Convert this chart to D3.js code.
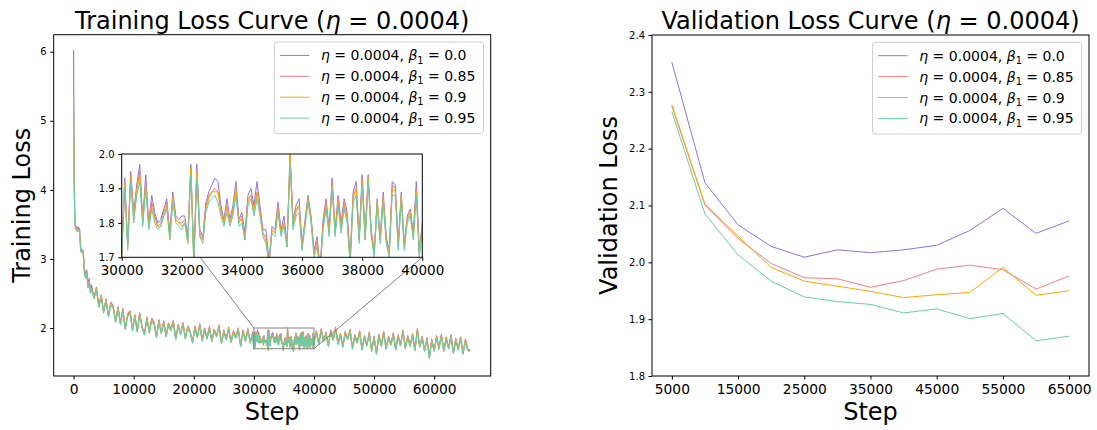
<!DOCTYPE html>
<html>
<head>
<meta charset="utf-8">
<script src="https://cdn.jsdelivr.net/npm/d3@7"></script>
<style>
    body { margin: 0; background: #fff; }
    svg text { font-family: "DejaVu Sans", sans-serif; fill: #000; }
</style>
</head>
<body>
<svg id="chart" width="1097" height="430"></svg>
<script>
// ---- data ----
const betaLabels = ["0.0", "0.85", "0.9", "0.95"];

// logged training steps: dense early, every 400 steps, every 100 inside the zoomed window
const trainSteps = [0, 100, 200, 300, 400, 600, 800, 1000, 1200, 1400, 1600, 1800, 2000, 2200, 2400, 2600, 2800, 3000]
    .concat(d3.range(3400, 30000, 400), d3.range(30000, 40001, 100), d3.range(40400, 66001, 400));

const trainB00 = [
    6.02, 4.30, 3.62, 3.50, 3.47, 3.45, 3.46, 3.43, 3.15, 3.14, 3.12, 2.86, 2.77, 2.84, 2.63, 2.72, 2.55, 2.62,
    2.44, 2.59, 2.32, 2.48, 2.24, 2.42, 2.18, 2.37, 2.32, 2.10,
    2.31, 2.07, 2.28, 2.00, 2.20, 2.25, 1.98, 2.19, 1.96, 2.22,
    2.02, 1.92, 2.16, 1.95, 2.14, 2.08, 1.88, 2.12, 1.94, 2.10,
    1.89, 2.07, 1.98, 2.11, 1.85, 2.05, 1.92, 2.08, 1.86, 2.03,
    1.95, 1.80, 2.03, 1.88, 2.06, 1.83, 2.00, 1.86, 2.02, 1.82,
    1.98, 1.89, 2.04, 1.79, 1.97, 1.85, 2.01, 1.81, 1.96, 1.87,
    2.00, 1.75, 1.97, 1.82, 1.99, 1.80, 1.94,
    1.72, 1.93, 1.74, 1.95, 1.83, 1.91, 1.97, 1.81, 1.94, 1.80,
    1.88, 1.83, 1.80, 1.81, 1.84, 1.87, 1.77, 1.89, 1.82, 1.81,
    1.82, 1.82, 1.76, 1.97, 1.70, 1.97, 1.78, 1.76, 1.86, 1.89,
    1.91, 1.93, 1.92, 1.85, 1.81, 1.87, 1.81, 1.85, 1.92, 1.81,
    1.83, 1.77, 1.88, 1.90, 1.85, 1.92, 1.85, 1.78, 1.78, 1.69,
    1.79, 1.78, 1.86, 1.78, 1.82, 1.74, 2.00, 1.81, 1.85, 1.87,
    1.74, 1.81, 1.88, 1.82, 1.72, 1.76, 1.67, 1.81, 1.87, 1.78,
    1.93, 1.78, 1.88, 1.80, 1.87, 1.83, 1.70, 1.89, 1.92, 1.76,
    1.94, 1.77, 1.94, 1.78, 1.72, 1.87, 1.76, 1.89, 1.76, 1.72,
    1.92, 1.91, 1.74, 1.89, 1.74, 1.82, 1.84, 1.77, 1.92, 1.72,
    1.80,
    1.96, 1.78, 1.99, 1.82, 1.94, 1.75, 1.97, 1.84, 2.01, 1.78,
    1.92, 1.74, 1.95, 1.85, 1.98, 1.72, 1.90, 1.80, 1.96, 1.70,
    1.89, 1.76, 1.94, 1.68, 1.88, 1.64, 1.91, 1.75, 1.95, 1.71,
    1.88, 1.77, 1.93, 1.70, 1.90, 1.76, 1.97, 1.72, 1.89, 1.75,
    1.92, 1.69, 1.99, 1.74, 1.88, 1.68, 1.86, 1.58, 1.84, 1.68,
    1.89, 1.71, 1.91, 1.68, 1.87, 1.72, 1.90, 1.65, 1.85, 1.70,
    1.87, 1.64, 1.84, 1.69, 1.68
];
const trainB085 = [
    5.20, 4.18, 3.59, 3.48, 3.45, 3.43, 3.44, 3.41, 3.13, 3.12, 3.10, 2.83, 2.75, 2.81, 2.61, 2.69, 2.53, 2.59,
    2.43, 2.58, 2.31, 2.47, 2.23, 2.41, 2.17, 2.36, 2.31, 2.09,
    2.30, 2.06, 2.27, 1.99, 2.19, 2.24, 1.97, 2.18, 1.95, 2.21,
    2.01, 1.91, 2.15, 1.94, 2.13, 2.07, 1.87, 2.11, 1.93, 2.09,
    1.88, 2.06, 1.97, 2.10, 1.84, 2.04, 1.91, 2.07, 1.85, 2.02,
    1.94, 1.79, 2.02, 1.87, 2.05, 1.82, 1.99, 1.85, 2.01, 1.81,
    1.97, 1.88, 2.03, 1.78, 1.96, 1.84, 2.00, 1.80, 1.95, 1.86,
    1.99, 1.74, 1.96, 1.81, 1.98, 1.79, 1.93,
    1.71, 1.92, 1.73, 1.94, 1.82, 1.90, 1.95, 1.80, 1.92, 1.79,
    1.86, 1.82, 1.79, 1.80, 1.83, 1.86, 1.76, 1.88, 1.81, 1.80,
    1.80, 1.81, 1.75, 1.96, 1.69, 1.95, 1.77, 1.75, 1.85, 1.88,
    1.89, 1.90, 1.89, 1.84, 1.80, 1.85, 1.80, 1.84, 1.90, 1.80,
    1.82, 1.76, 1.87, 1.88, 1.84, 1.89, 1.84, 1.77, 1.76, 1.68,
    1.78, 1.77, 1.85, 1.77, 1.80, 1.73, 1.99, 1.80, 1.84, 1.85,
    1.73, 1.80, 1.87, 1.81, 1.71, 1.75, 1.66, 1.80, 1.86, 1.77,
    1.92, 1.77, 1.87, 1.79, 1.86, 1.82, 1.69, 1.88, 1.90, 1.75,
    1.93, 1.76, 1.93, 1.77, 1.71, 1.86, 1.75, 1.88, 1.75, 1.71,
    1.91, 1.90, 1.73, 1.88, 1.73, 1.81, 1.83, 1.76, 1.90, 1.71,
    1.79,
    1.95, 1.77, 1.98, 1.81, 1.93, 1.74, 1.96, 1.83, 2.00, 1.77,
    1.91, 1.73, 1.94, 1.84, 1.97, 1.71, 1.89, 1.79, 1.95, 1.69,
    1.88, 1.75, 1.93, 1.67, 1.87, 1.63, 1.90, 1.74, 1.94, 1.70,
    1.87, 1.76, 1.92, 1.69, 1.89, 1.75, 1.96, 1.71, 1.88, 1.74,
    1.91, 1.68, 1.98, 1.73, 1.87, 1.67, 1.85, 1.57, 1.83, 1.67,
    1.88, 1.70, 1.90, 1.67, 1.86, 1.71, 1.89, 1.64, 1.84, 1.69,
    1.86, 1.63, 1.83, 1.68, 1.67
];
const trainB09 = [
    5.25, 4.14, 3.57, 3.46, 3.43, 3.41, 3.42, 3.39, 3.11, 3.10, 3.08, 2.81, 2.73, 2.79, 2.59, 2.67, 2.51, 2.57,
    2.43, 2.57, 2.31, 2.46, 2.23, 2.40, 2.17, 2.35, 2.30, 2.09,
    2.29, 2.06, 2.26, 1.99, 2.18, 2.23, 1.97, 2.17, 1.95, 2.20,
    2.01, 1.91, 2.14, 1.94, 2.12, 2.06, 1.87, 2.10, 1.93, 2.08,
    1.88, 2.05, 1.97, 2.09, 1.84, 2.03, 1.91, 2.06, 1.85, 2.01,
    1.94, 1.79, 2.01, 1.87, 2.04, 1.82, 1.98, 1.85, 2.00, 1.81,
    1.96, 1.88, 2.02, 1.78, 1.95, 1.84, 1.99, 1.80, 1.94, 1.86,
    1.98, 1.74, 1.95, 1.81, 1.97, 1.79, 1.92,
    1.70, 1.91, 1.73, 1.93, 1.81, 1.89, 1.94, 1.80, 1.91, 1.79,
    1.85, 1.81, 1.79, 1.79, 1.82, 1.85, 1.75, 1.87, 1.81, 1.80,
    1.79, 1.80, 1.74, 1.96, 1.68, 1.95, 1.76, 1.75, 1.84, 1.87,
    1.89, 1.89, 1.89, 1.83, 1.80, 1.85, 1.80, 1.83, 1.90, 1.80,
    1.81, 1.75, 1.86, 1.88, 1.83, 1.89, 1.83, 1.77, 1.75, 1.68,
    1.78, 1.77, 1.84, 1.77, 1.80, 1.73, 2.00, 1.79, 1.83, 1.85,
    1.73, 1.80, 1.87, 1.81, 1.71, 1.74, 1.66, 1.79, 1.85, 1.77,
    1.91, 1.77, 1.86, 1.78, 1.85, 1.81, 1.68, 1.87, 1.90, 1.75,
    1.92, 1.75, 1.93, 1.77, 1.71, 1.86, 1.75, 1.87, 1.75, 1.71,
    1.90, 1.89, 1.73, 1.88, 1.73, 1.81, 1.83, 1.76, 1.89, 1.71,
    1.79,
    1.94, 1.77, 1.97, 1.81, 1.92, 1.74, 1.95, 1.83, 1.99, 1.77,
    1.90, 1.73, 1.93, 1.84, 1.96, 1.71, 1.88, 1.79, 1.94, 1.69,
    1.87, 1.75, 1.92, 1.67, 1.86, 1.63, 1.89, 1.74, 1.93, 1.70,
    1.86, 1.76, 1.91, 1.69, 1.88, 1.75, 1.95, 1.71, 1.87, 1.74,
    1.90, 1.68, 1.97, 1.73, 1.86, 1.67, 1.84, 1.57, 1.82, 1.67,
    1.87, 1.70, 1.89, 1.67, 1.85, 1.71, 1.88, 1.64, 1.83, 1.69,
    1.85, 1.63, 1.82, 1.68, 1.67
];
const trainB095 = [
    5.30, 4.10, 3.55, 3.45, 3.42, 3.40, 3.41, 3.38, 3.10, 3.09, 3.07, 2.80, 2.72, 2.78, 2.58, 2.66, 2.50, 2.56,
    2.42, 2.55, 2.30, 2.44, 2.22, 2.38, 2.16, 2.33, 2.28, 2.08,
    2.27, 2.05, 2.24, 1.98, 2.16, 2.21, 1.96, 2.15, 1.94, 2.18,
    2.00, 1.90, 2.12, 1.93, 2.10, 2.04, 1.86, 2.08, 1.92, 2.06,
    1.87, 2.03, 1.96, 2.07, 1.83, 2.01, 1.90, 2.04, 1.84, 1.99,
    1.93, 1.78, 1.99, 1.86, 2.02, 1.81, 1.96, 1.84, 1.98, 1.80,
    1.94, 1.87, 2.00, 1.77, 1.93, 1.83, 1.97, 1.79, 1.92, 1.85,
    1.96, 1.73, 1.93, 1.80, 1.95, 1.78, 1.90,
    1.70, 1.90, 1.72, 1.92, 1.80, 1.88, 1.92, 1.79, 1.90, 1.78,
    1.84, 1.80, 1.78, 1.79, 1.82, 1.84, 1.75, 1.86, 1.80, 1.79,
    1.78, 1.80, 1.74, 1.94, 1.68, 1.93, 1.76, 1.74, 1.83, 1.86,
    1.87, 1.88, 1.86, 1.82, 1.79, 1.83, 1.79, 1.82, 1.88, 1.79,
    1.80, 1.75, 1.85, 1.87, 1.82, 1.87, 1.82, 1.76, 1.74, 1.68,
    1.77, 1.76, 1.83, 1.76, 1.79, 1.73, 1.97, 1.78, 1.82, 1.83,
    1.72, 1.79, 1.86, 1.80, 1.70, 1.73, 1.66, 1.78, 1.84, 1.76,
    1.90, 1.76, 1.85, 1.77, 1.84, 1.80, 1.68, 1.86, 1.88, 1.74,
    1.91, 1.75, 1.92, 1.76, 1.70, 1.85, 1.74, 1.86, 1.74, 1.70,
    1.88, 1.88, 1.72, 1.87, 1.72, 1.80, 1.82, 1.75, 1.88, 1.70,
    1.78,
    1.92, 1.76, 1.95, 1.80, 1.90, 1.73, 1.93, 1.82, 1.97, 1.76,
    1.88, 1.72, 1.91, 1.83, 1.94, 1.70, 1.86, 1.78, 1.92, 1.68,
    1.85, 1.74, 1.90, 1.66, 1.84, 1.62, 1.87, 1.73, 1.91, 1.69,
    1.84, 1.75, 1.89, 1.68, 1.86, 1.74, 1.93, 1.70, 1.85, 1.73,
    1.88, 1.67, 1.95, 1.72, 1.84, 1.66, 1.82, 1.56, 1.80, 1.66,
    1.85, 1.69, 1.87, 1.66, 1.83, 1.70, 1.86, 1.63, 1.81, 1.68,
    1.83, 1.62, 1.80, 1.67, 1.66
];

const valSteps = [5000, 10000, 15000, 20000, 25000, 30000, 35000, 40000, 45000, 50000, 55000, 60000, 65000];
const valB00  = [2.352, 2.140, 2.066, 2.028, 2.009, 2.022, 2.017, 2.022, 2.030, 2.056, 2.095, 2.051, 2.073];
const valB085 = [2.275, 2.101, 2.042, 1.998, 1.973, 1.971, 1.956, 1.968, 1.988, 1.995, 1.987, 1.953, 1.976];
const valB09  = [2.277, 2.102, 2.046, 1.991, 1.967, 1.958, 1.949, 1.938, 1.943, 1.947, 1.991, 1.942, 1.950];
const valB095 = [2.265, 2.085, 2.013, 1.967, 1.939, 1.931, 1.926, 1.911, 1.918, 1.901, 1.910, 1.862, 1.870];

const trainXTicks = [0, 10000, 20000, 30000, 40000, 50000, 60000];
const trainYTicks = [2, 3, 4, 5, 6];
const insetXTicks = [30000, 32000, 34000, 36000, 38000, 40000];
const insetYTicks = [1.7, 1.8, 1.9, 2.0];
const valXTicks = [5000, 15000, 25000, 35000, 45000, 55000, 65000];
const valYTicks = [1.8, 1.9, 2.0, 2.1, 2.2, 2.3, 2.4];

// ---- styles / layout ----
const colors = ["#9370DB", "#F08080", "#FFA500", "#66CDAA"];
const fontTitle = 24, fontLabel = 24, fontXTick = 13.8, fontYTick = 10, fontLegend = 14;

const trainBox = {left: 53.7, right: 490.7, top: 34.7, bottom: 376};
const insetBox = {left: 121.7, right: 422.3, top: 154, bottom: 257.3};
const valBox = {left: 652, right: 1089, top: 35, bottom: 376};

const svg = d3.select("#chart");
svg.append("rect").attr("width", 1097).attr("height", 430).attr("fill", "#fff");
const defs = svg.append("defs");

function clipFor(id, b) {
    defs.append("clipPath").attr("id", id).append("rect")
        .attr("x", b.left).attr("y", b.top)
        .attr("width", b.right - b.left).attr("height", b.bottom - b.top);
    return `url(#${id})`;
}

function addMath(text, parts, size) {
    let shift = 0;
    parts.forEach(p => {
        const ts = text.append("tspan").text(p.t);
        if (p.it) ts.attr("font-style", "italic");
        if (p.sub) {
            shift = size * 0.22;
            ts.attr("font-size", size * 0.7).attr("dy", shift);
        } else if (shift) {
            ts.attr("dy", -shift);
            shift = 0;
        }
    });
}

function drawAxes(b, x, y, xTicks, yTicks, xFmt, yFmt, xSize, ySize) {
    const ax = svg.append("g")
        .attr("transform", `translate(0,${b.bottom})`)
        .call(d3.axisBottom(x).tickValues(xTicks).tickFormat(xFmt).tickSize(3.5).tickPadding(5));
    ax.select(".domain").remove();
    ax.attr("font-family", "DejaVu Sans").attr("font-size", xSize);

    const ay = svg.append("g")
        .attr("transform", `translate(${b.left},0)`)
        .call(d3.axisLeft(y).tickValues(yTicks).tickFormat(yFmt).tickSize(3.5).tickPadding(3.5));
    ay.select(".domain").remove();
    ay.attr("font-family", "DejaVu Sans").attr("font-size", ySize);

    svg.append("rect")
        .attr("x", b.left).attr("y", b.top)
        .attr("width", b.right - b.left).attr("height", b.bottom - b.top)
        .attr("fill", "none").attr("stroke", "#000").attr("stroke-width", 1);
}

function drawLegend(b) {
    const lg = svg.append("g");
    const box = lg.append("rect");
    let maxW = 0;
    betaLabels.forEach((beta, i) => {
        const cy = 13.4 + i * 20.9;
        lg.append("line")
            .attr("x1", 5.7).attr("x2", 35).attr("y1", cy).attr("y2", cy)
            .attr("stroke", colors[i]).attr("stroke-width", 1);
        const t = lg.append("text")
            .attr("x", 46.7).attr("y", cy + fontLegend * 0.36)
            .attr("font-size", fontLegend);
        addMath(t, [{t: "η", it: true}, {t: " = 0.0004, "}, {t: "β", it: true}, {t: "1", sub: true}, {t: " = " + beta}], fontLegend);
        maxW = Math.max(maxW, t.node().getComputedTextLength());
    });
    const w = 46.7 + maxW + 8;
    box.attr("width", w).attr("height", 91.7).attr("rx", 3)
        .attr("fill", "#fff").attr("fill-opacity", 0.8)
        .attr("stroke", "#cccccc").attr("stroke-width", 1);
    lg.attr("transform", `translate(${b.right - 7.3 - w},${b.top + 7.3})`);
}

function drawTitles(b, title, ylabel) {
    const cx = (b.left + b.right) / 2;
    const t = svg.append("text").attr("x", cx).attr("y", 29)
        .attr("text-anchor", "middle").attr("font-size", fontTitle);
    addMath(t, [{t: title + " ("}, {t: "η", it: true}, {t: " = 0.0004)"}], fontTitle);
    svg.append("text").attr("x", cx).attr("y", 420)
        .attr("text-anchor", "middle").attr("font-size", fontLabel).text("Step");
    svg.append("text")
        .attr("transform", `translate(${ylabel.x},${(b.top + b.bottom) / 2}) rotate(-90)`)
        .attr("text-anchor", "middle").attr("font-size", fontLabel).text(ylabel.text);
}

// ---- training panel ----
const trainSeries = [trainB00, trainB085, trainB09, trainB095];
const xTrain = d3.scaleLinear().domain([-3305, 69405]).range([trainBox.left, trainBox.right]);
const yTrain = d3.scaleLinear().domain([1.305, 6.246]).range([trainBox.bottom, trainBox.top]);

const trainLine = d3.line().x((d, i) => xTrain(trainSteps[i])).y(d => yTrain(d));
const gTrain = svg.append("g").attr("clip-path", clipFor("clipTrain", trainBox));
trainSeries.forEach((s, i) => {
    gTrain.append("path").attr("d", trainLine(s))
        .attr("fill", "none").attr("stroke", colors[i]).attr("stroke-width", 1.1)
        .attr("stroke-linejoin", "round");
});
drawAxes(trainBox, xTrain, yTrain, trainXTicks, trainYTicks, d3.format("d"), d3.format("d"), fontXTick, fontYTick);
drawTitles(trainBox, "Training Loss Curve", {x: 30, text: "Training Loss"});

// zoom rectangle + connectors
const zx0 = xTrain(insetXTicks[0]), zx1 = xTrain(insetXTicks[insetXTicks.length - 1]);
const zy0 = yTrain(insetYTicks[insetYTicks.length - 1]), zy1 = yTrain(insetYTicks[0]);
svg.append("rect").attr("x", zx0).attr("y", zy0).attr("width", zx1 - zx0).attr("height", zy1 - zy0)
    .attr("fill", "none").attr("stroke", "#808080").attr("stroke-width", 1);
svg.append("line").attr("x1", insetBox.left).attr("y1", insetBox.top).attr("x2", zx0).attr("y2", zy0)
    .attr("stroke", "#808080").attr("stroke-width", 1);
svg.append("line").attr("x1", insetBox.right).attr("y1", insetBox.bottom).attr("x2", zx1).attr("y2", zy1)
    .attr("stroke", "#808080").attr("stroke-width", 1);

drawLegend(trainBox);

// ---- inset ----
const xInset = d3.scaleLinear().domain([30000, 40000]).range([insetBox.left, insetBox.right]);
const yInset = d3.scaleLinear().domain([1.7, 2.0]).range([insetBox.bottom, insetBox.top]);
svg.append("rect").attr("x", insetBox.left).attr("y", insetBox.top)
    .attr("width", insetBox.right - insetBox.left).attr("height", insetBox.bottom - insetBox.top)
    .attr("fill", "#fff");
const insetLine = d3.line().x((d, i) => xInset(trainSteps[i])).y(d => yInset(d));
const gInset = svg.append("g").attr("clip-path", clipFor("clipInset", insetBox));
trainSeries.forEach((s, i) => {
    gInset.append("path").attr("d", insetLine(s))
        .attr("fill", "none").attr("stroke", colors[i]).attr("stroke-width", 1)
        .attr("stroke-linejoin", "round");
});
drawAxes(insetBox, xInset, yInset, insetXTicks, insetYTicks, d3.format("d"), d3.format(".1f"), 13.5, fontYTick);

// ---- validation panel ----
const valSeries = [valB00, valB085, valB09, valB095];
const xVal = d3.scaleLinear().domain([2000, 68000]).range([valBox.left, valBox.right]);
const yVal = d3.scaleLinear().domain([1.8, 2.4]).range([valBox.bottom, valBox.top]);
const valLine = d3.line().x((d, i) => xVal(valSteps[i])).y(d => yVal(d));
const gVal = svg.append("g").attr("clip-path", clipFor("clipVal", valBox));
valSeries.forEach((s, i) => {
    gVal.append("path").attr("d", valLine(s))
        .attr("fill", "none").attr("stroke", colors[i]).attr("stroke-width", 1);
});
drawAxes(valBox, xVal, yVal, valXTicks, valYTicks, d3.format("d"), d3.format(".1f"), fontXTick, fontYTick);
drawTitles(valBox, "Validation Loss Curve", {x: 617, text: "Validation Loss"});
drawLegend(valBox);
</script>
</body>
</html>
